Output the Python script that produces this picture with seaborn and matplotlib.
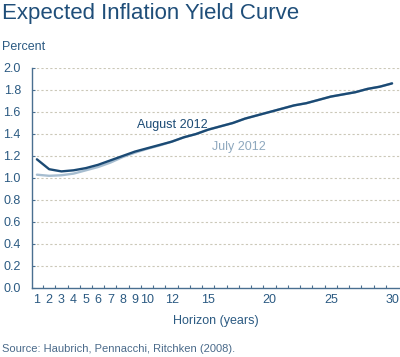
import pandas as pd
import matplotlib
matplotlib.use("Agg")
import matplotlib.pyplot as plt
import seaborn as sns

# horizon in years and expected inflation (percent)
horizon = list(range(1, 31))
august = [1.17, 1.08, 1.06, 1.07, 1.09, 1.12, 1.16, 1.20, 1.24, 1.27,
          1.30, 1.33, 1.37, 1.40, 1.44, 1.47, 1.50, 1.54, 1.57, 1.60,
          1.63, 1.66, 1.68, 1.71, 1.74, 1.76, 1.78, 1.81, 1.83, 1.86]
july = [1.03, 1.02, 1.025, 1.04, 1.07, 1.10, 1.14, 1.19, 1.23, 1.265,
        1.295, 1.33, 1.37, 1.40, 1.44, 1.47, 1.50, 1.54, 1.57, 1.60,
        1.63, 1.66, 1.68, 1.71, 1.74, 1.76, 1.78, 1.81, 1.83, 1.86]
series = ["July 2012", "August 2012"]
xtick_labels = [1, 2, 3, 4, 5, 6, 7, 8, 9, 10, 12, 15, 20, 25, 30]
ytick_vals = [0.0, 0.2, 0.4, 0.6, 0.8, 1.0, 1.2, 1.4, 1.6, 1.8, 2.0]

df = pd.DataFrame({
    "Horizon": horizon * 2,
    "Percent": july + august,
    "Series": [series[0]] * len(july) + [series[1]] * len(august),
})

sns.set_theme(style="white")
plt.rcParams["font.family"] = ["Liberation Sans", "DejaVu Sans"]

dark = "#1b4a74"
light = "#a6bdd0"
txt = "#2b5a82"

fig = plt.figure(figsize=(4.0, 3.57), dpi=100)
ax = fig.add_axes([32 / 400, 1 - 288 / 357, 368 / 400, 220 / 357])

sns.lineplot(data=df, x="Horizon", y="Percent", hue="Series",
             palette={series[0]: light, series[1]: dark},
             linewidth=1.7, legend=False, ax=ax)

ax.set_xlim(0.6, 30.65)
ax.set_ylim(0, 2.0)

ax.set_xticks(xtick_labels)
ax.set_xticklabels([str(v) for v in xtick_labels])
ax.set_xticks([v + 0.5 for v in range(1, 30)], minor=True)
ax.tick_params(axis="x", which="major", length=0, pad=4,
               labelsize=9, labelcolor=txt)
ax.tick_params(axis="x", which="minor", direction="in", length=2.5,
               width=0.8, color="#4a6f90", bottom=True)

ax.set_yticks(ytick_vals)
ax.set_yticklabels([f"{v:.1f}" for v in ytick_vals])
ax.tick_params(axis="y", which="major", direction="in", length=2.5,
               width=0.8, color="#4a6f90", left=True, pad=8,
               labelsize=9, labelcolor=txt)

for v in ytick_vals[1:]:
    ax.axhline(v, color="#cbc8b8", linestyle=(0, (2, 2)), linewidth=0.8,
               zorder=0)

sns.despine(ax=ax, top=True, right=True)
for s in ["left", "bottom"]:
    ax.spines[s].set_color("#4a6f90")
    ax.spines[s].set_linewidth(1.0)

ax.set_xlabel("Horizon (years)", fontsize=9, color=txt, labelpad=7)
ax.set_ylabel("")

ax.text(9.21, 1.48, "August 2012", fontsize=9, color=dark,
        ha="left", va="center")
ax.text(15.26, 1.28, "July 2012", fontsize=9, color="#8ea8be",
        ha="left", va="center")

fig.text(2 / 400, 1 - 18.5 / 357, "Expected Inflation Yield Curve",
         fontsize=16, color="#1f4e79", ha="left", va="baseline")
fig.text(2 / 400, 1 - 47 / 357, "Percent", fontsize=9, color=txt,
         ha="left", va="center")
fig.text(2 / 400, 1 - 348.5 / 357,
         "Source: Haubrich, Pennacchi, Ritchken (2008).",
         fontsize=8, color="#4a6a8a", ha="left", va="center")

fig.savefig("out.png", dpi=100)
